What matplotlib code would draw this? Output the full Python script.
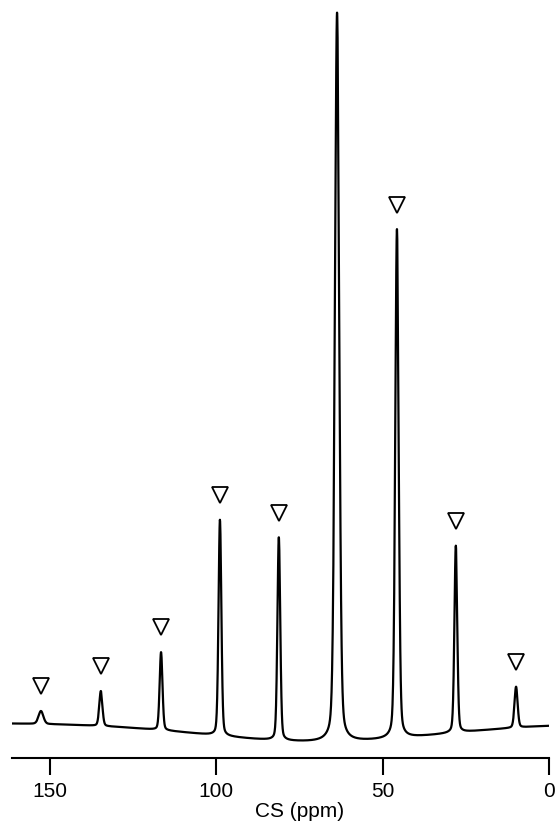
import numpy as np
import matplotlib
matplotlib.use('Agg')
import matplotlib.pyplot as plt

plt.rcParams['font.family'] = ['Liberation Sans', 'DejaVu Sans']

# Peak table (ppm, height above baseline, FWHM in ppm)
centres = [152.7, 134.7, 116.6, 98.9, 81.2, 63.7, 45.7, 28.0, 9.9]
heights = [13, 35, 78, 216, 203, 729, 509, 187, 41]
widths = [1.7, 1.1, 1.0, 1.0, 1.0, 1.5, 1.2, 1.0, 1.1]
# spinning sidebands carry a marker, the isotropic line does not
sideband = [True, True, True, True, True, False, True, True, True]

# Baseline: flat offset with a broad dip around the middle
base_level = 17
dip_depth = 19
dip_centre = 68.0
dip_sigma = 35.0

ticks = [150, 100, 50, 0]

cs = np.linspace(0, 161.4, 8000)


def pvoigt(x, x0, h, w, eta=0.25):
	g = np.exp(-4 * np.log(2) * ((x - x0) / w) ** 2)
	l = 1.0 / (1.0 + 4 * ((x - x0) / w) ** 2)
	return h * (eta * l + (1 - eta) * g)


def baseline(x):
	return base_level - dip_depth * np.exp(-(x - dip_centre) ** 2 / (2 * dip_sigma ** 2))


spec = baseline(cs)
for c, h, w in zip(centres, heights, widths):
	spec += pvoigt(cs, c, h, w)

fig = plt.figure(figsize=(5.57, 8.23), dpi=100)
ax = fig.add_axes([12 / 557, 65 / 823, 537 / 557, 758 / 823])
ax.plot(cs, spec, '-', color='black', lw=1.6)

# open triangles above the sidebands
for c, h, s in zip(centres, heights, sideband):
	if s:
		top = baseline(np.array([c]))[0] + h
		ax.plot(c, top + 25, 'v', ms=11, mfc='white', mec='black', mew=1.3)

ax.set_xlim(161.4, 0)
ax.set_ylim(-18, 740)
for side in ['left', 'right', 'top']:
	ax.spines[side].set_visible(False)
ax.spines['bottom'].set_linewidth(1.5)
ax.set_yticks([])
ax.set_xticks(ticks)
ax.set_xticklabels([str(t) for t in ticks])
ax.tick_params(axis='x', direction='out', length=12, width=1.5, pad=5, labelsize=15)
ax.set_xlabel('CS (ppm)', fontsize=15)
ax.xaxis.set_label_coords(0.536, -0.058)

fig.savefig('out.png', dpi=100)
